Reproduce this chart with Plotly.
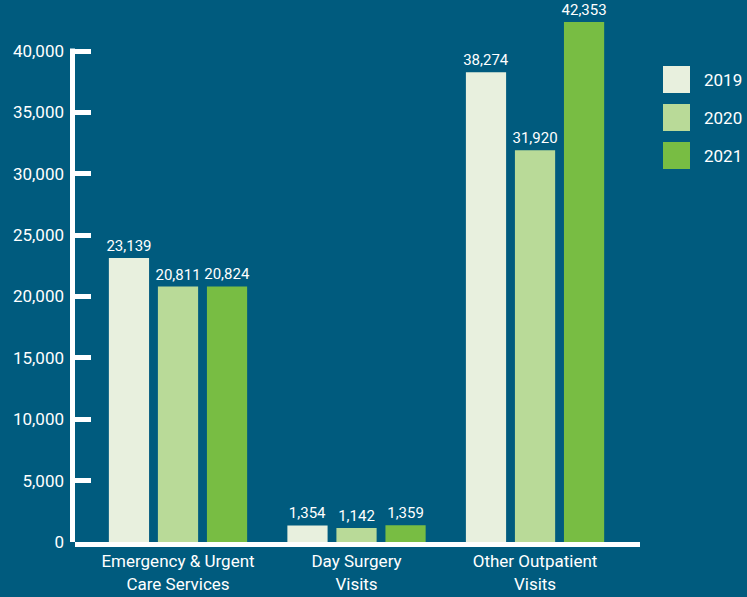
import plotly.graph_objects as go

categories = ["Emergency & Urgent<br>Care Services", "Day Surgery<br>Visits", "Other Outpatient<br>Visits"]
years = ["2019", "2020", "2021"]
values_2019 = [23139, 1354, 38274]
values_2020 = [20811, 1142, 31920]
values_2021 = [20824, 1359, 42353]
colors = ["#e8f0de", "#b9da98", "#78bd43"]
y_ticks = [0, 5000, 10000, 15000, 20000, 25000, 30000, 35000, 40000]

BG = "#005b7e"
FONT = "Roboto, sans-serif"

W, H = 747, 597
L, R, T, B = 75, 107, 2, 55
pw, ph = W - L - R, H - T - B
px_per_unit = 491 / 40000.0
y_top = ph / px_per_unit

fig = go.Figure()
for yr, vals, col in zip(years, [values_2019, values_2020, values_2021], colors):
    fig.add_trace(go.Bar(
        x=categories, y=vals, name=yr, marker=dict(color=col, line=dict(width=0)),
        text=[f"{v:,}" for v in vals], textposition="outside", constraintext="none",
        textfont=dict(color="white", size=15, family=FONT),
        cliponaxis=False, showlegend=False, hoverinfo="skip",
    ))

# y axis line from 0 up to the top tick
fig.add_shape(type="line", xref="paper", yref="y", xsizemode="pixel", xanchor=0,
              x0=-2.5, x1=-2.5, y0=0, y1=y_ticks[-1] + 2.5 / px_per_unit,
              line=dict(color="white", width=5))

# legend drawn as large swatches
for i, (yr, col) in enumerate(zip(years, colors)):
    top = 66 + 38 * i
    fig.add_shape(type="rect", xref="paper", yref="paper",
                  x0=(663 - L) / pw, x1=(690 - L) / pw,
                  y0=(H - B - top) / ph, y1=(H - B - top - 27) / ph,
                  fillcolor=col, line=dict(width=0))
    fig.add_annotation(xref="paper", yref="paper", x=(702 - L) / pw,
                       y=(H - B - top - 14) / ph, text=yr, showarrow=False,
                       xanchor="left", yanchor="middle",
                       font=dict(color="white", size=17, family=FONT))

fig.update_layout(
    width=W, height=H, margin=dict(l=L, r=R, t=T, b=B),
    paper_bgcolor=BG, plot_bgcolor=BG,
    barmode="group", bargap=0.176, bargroupgap=0.18,
    font=dict(family=FONT, color="white", size=17),
)
fig.update_xaxes(range=[-0.577, 2.588], showgrid=False, showline=True, linecolor="white",
                 linewidth=5, ticks="", tickfont=dict(size=17, color="white", family=FONT),
                 zeroline=False, fixedrange=True)
fig.update_yaxes(range=[0, y_top], showgrid=False, showline=False,
                 ticks="inside", ticklen=16, tickwidth=5, tickcolor="white",
                 tickvals=y_ticks, ticktext=[f"{v:,}" for v in y_ticks],
                 ticklabelstandoff=10,
                 tickfont=dict(size=17, color="white", family=FONT), zeroline=False,
                 fixedrange=True)

fig.write_html("out.html", config={"displayModeBar": False, "staticPlot": True},
               post_script="document.body.style.margin='0';document.body.style.padding='0';"
                           "document.body.style.overflow='hidden';")
